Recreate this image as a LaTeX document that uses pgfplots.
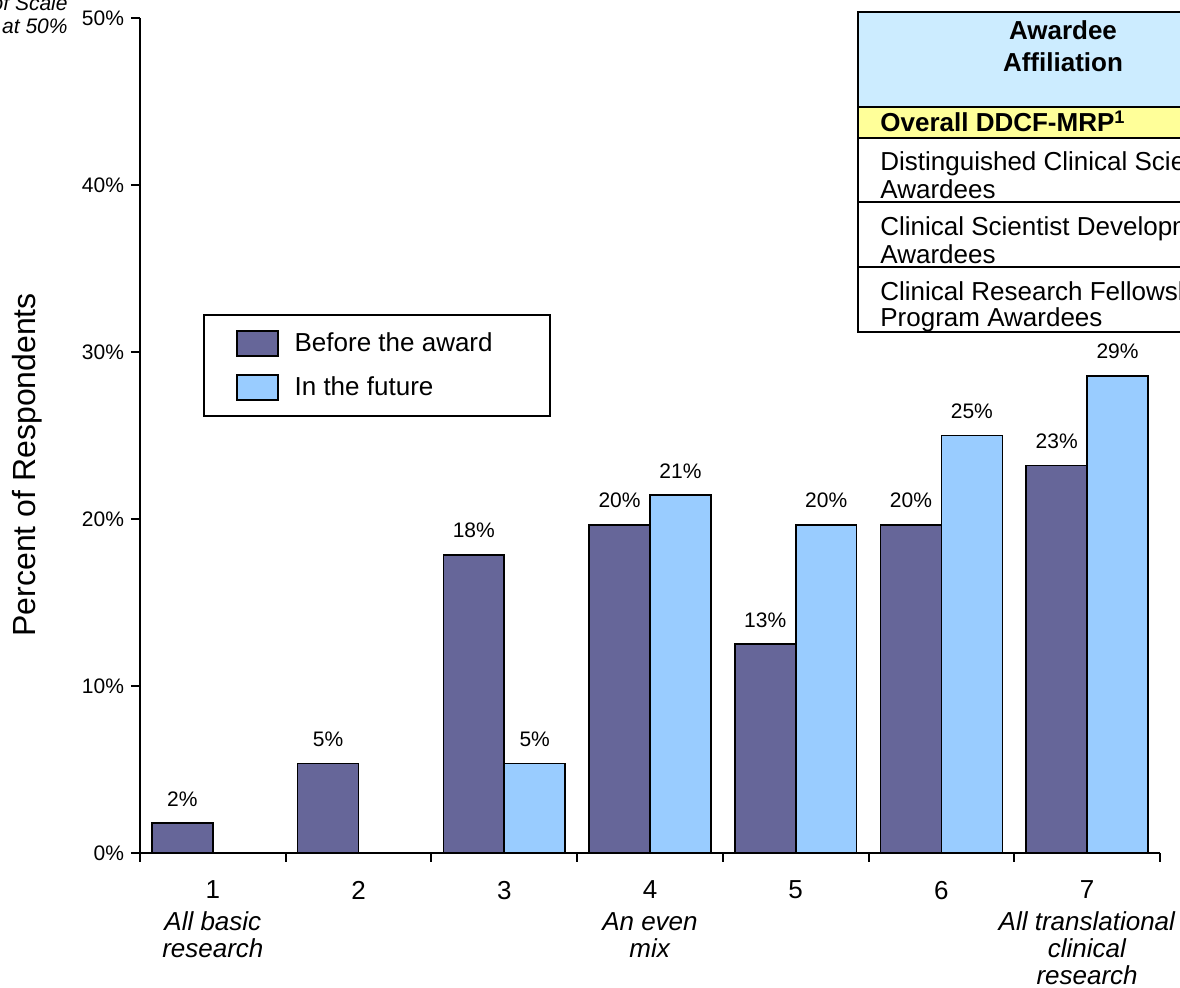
\documentclass[border=0pt]{standalone}
\usepackage{fontspec}
\setmainfont{Liberation Sans}
\usepackage{pgfplots}
\pgfplotsset{compat=1.18}

\definecolor{before}{HTML}{666699}
\definecolor{future}{HTML}{99CCFF}
\definecolor{headblue}{HTML}{CCECFF}
\definecolor{rowyellow}{HTML}{FFFF99}

\pgfplotsset{
	box legend/.style={legend image code/.code={\draw[##1] (0pt,-6.25pt) rectangle (20.5pt,6.25pt);}},
}

\begin{document}
\begin{tikzpicture}
\path[use as bounding box] (0pt,-494pt) rectangle (590pt,0pt);
\clip (0pt,-494pt) rectangle (590pt,0pt);
\begin{axis}[
	at={(70pt,-426.5pt)}, anchor=south west,
	scale only axis, width=510pt, height=417.5pt,
	xmin=0.5, xmax=7.5, ymin=0, ymax=50,
	enlargelimits=false, clip=false,
	axis x line*=bottom, axis y line*=left,
	axis line style={line width=1pt},
	tick align=outside, major tick length=4.5pt,
	tick style={line width=1pt, black},
	xtick={0.5,1.5,...,7.5}, x tick label as interval,
	xticklabels={{1\\[2.5pt]\textit{All basic}\\\textit{research}},2,3,
		{4\\[2.5pt]\textit{An even}\\\textit{mix}},5,6,
		{7\\[2.5pt]\textit{All translational}\\\textit{clinical}\\\textit{research}}},
	xticklabel style={font=\fontsize{13}{13.5}\selectfont, align=center, yshift=-6pt},
	ytick={0,10,...,50},
	yticklabels={0\%,10\%,20\%,30\%,40\%,50\%},
	yticklabel style={font=\fontsize{10.5}{12}\selectfont},
	ylabel={Percent of Respondents},
	every axis y label/.style={at={(axis description cs:-0.1108,0.465)}, rotate=90, anchor=center, font=\fontsize{16}{19}\selectfont},
	/pgf/number format/assume math mode=true,
	ybar, bar width=0.418,
	point meta=y,
	nodes near coords={\pgfmathprintnumber[fixed,precision=0]{\pgfplotspointmeta}\%},
	every node near coord/.append style={font=\fontsize{10.5}{12}\selectfont, anchor=base, yshift=8.5pt, black},
	legend style={at={(rel axis cs:0.0618,0.6455)}, anchor=north west,
		draw=black, line width=1pt, fill=white,
		font=\fontsize{13}{15.6}\selectfont,
		inner xsep=16pt, inner ysep=6.75pt, row sep=7pt,
		cells={anchor=west}},
]
\addplot[fill=before, draw=black, line width=0.8pt, bar shift=-0.209, box legend]
	coordinates {(1,1.786) (2,5.357) (3,17.857) (4,19.643) (5,12.5) (6,19.643) (7,23.214)};
\addplot[fill=future, draw=black, line width=0.8pt, bar shift=0.209, box legend]
	coordinates {(3,5.357) (4,21.429) (5,19.643) (6,25) (7,28.571)};
\legend{\hspace*{6pt}Before the award\hspace*{10.5pt}, \hspace*{6pt}In the future}
\end{axis}

% awardee table, cut by the right edge
\fill[headblue] (429pt,-6pt) rectangle (620pt,-53.5pt);
\fill[rowyellow] (429pt,-53.5pt) rectangle (620pt,-69pt);
\fill[white] (429pt,-69pt) rectangle (620pt,-166pt);
\draw[line width=0.8pt] (429pt,-69pt) -- (620pt,-69pt)
	(429pt,-101pt) -- (620pt,-101pt)
	(429pt,-133.5pt) -- (620pt,-133.5pt);
\draw[line width=1.3pt] (429pt,-53.5pt) -- (620pt,-53.5pt);
\draw[line width=1.3pt] (429pt,-6pt) rectangle (620pt,-166pt);
\begin{scope}[every node/.style={inner sep=0pt, font=\fontsize{13}{14}\selectfont}]
\node[anchor=base, font=\fontsize{13}{14}\selectfont\bfseries] at (531.5pt,-19.7pt) {Awardee};
\node[anchor=base, font=\fontsize{13}{14}\selectfont\bfseries] at (531.5pt,-35.7pt) {Affiliation};
\node[anchor=base west, font=\fontsize{13}{14}\selectfont\bfseries] at (440pt,-66pt) {Overall DDCF-MRP\textsuperscript{1}};
\node[anchor=base west] at (440pt,-85.5pt) {Distinguished Clinical Scientist};
\node[anchor=base west] at (440pt,-99.5pt) {Awardees};
\node[anchor=base west] at (440pt,-118pt) {Clinical Scientist Development};
\node[anchor=base west] at (440pt,-132pt) {Awardees};
\node[anchor=base west] at (440pt,-150.5pt) {Clinical Research Fellowship};
\node[anchor=base west] at (440pt,-163.5pt) {Program Awardees};
\end{scope}

% note on the scale, cut by the left edge
\node[anchor=base east, inner sep=0pt, font=\fontsize{10.5}{12}\selectfont\itshape] at (34pt,-5.5pt) {Top of Scale};
\node[anchor=base east, inner sep=0pt, font=\fontsize{10.5}{12}\selectfont\itshape] at (34pt,-17pt) {Set at 50\%};
\end{tikzpicture}
\end{document}
